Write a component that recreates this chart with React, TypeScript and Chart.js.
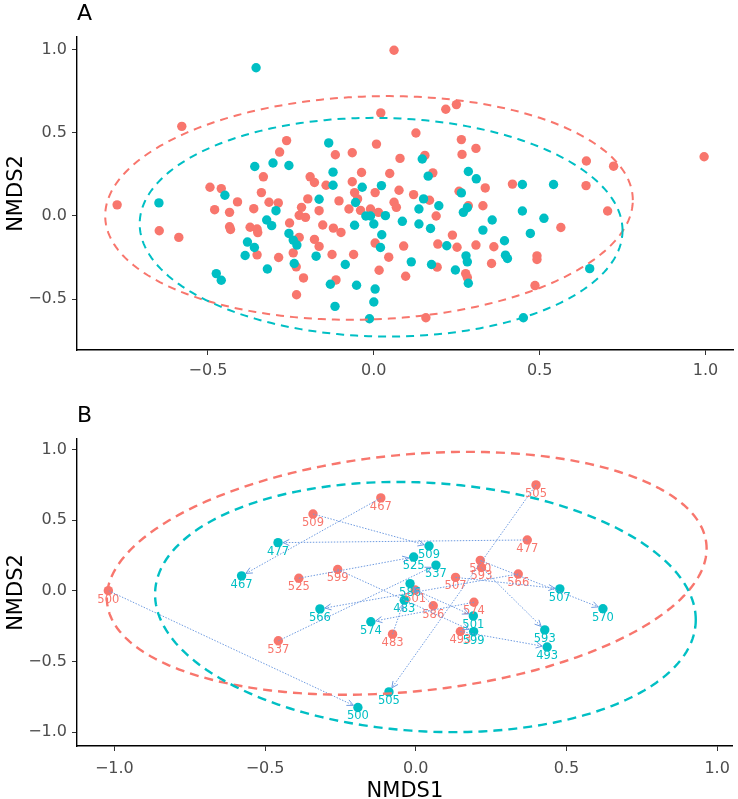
import React, { useEffect, useRef } from 'react';
import { Chart, registerables } from 'chart.js';

Chart.register(...registerables);

const RED = '#F8766D';
const CYAN = '#00BFC4';
const ARROW = '#6F9BE0';
const FONT = "'DejaVu Sans', 'Liberation Sans', sans-serif";

// ---------- Panel A data (NMDS1, NMDS2) ----------
const A_RED: [number, number][] = [
  [0.061, 0.998], [-0.774, 0.067], [-0.579, 0.540], [-0.647, -0.089], [-0.588, -0.129],
  [-0.494, 0.173], [-0.460, 0.165], [-0.480, 0.038], [-0.435, 0.022], [-0.435, -0.065],
  [-0.432, -0.081], [-0.411, 0.085], [-0.352, -0.234], [-0.373, -0.068], [-0.352, -0.078],
  [-0.350, -0.100], [-0.362, 0.044], [-0.339, 0.141], [-0.333, 0.236], [-0.316, 0.083],
  [-0.288, 0.079], [-0.284, 0.385], [-0.263, 0.454], [-0.287, -0.250], [-0.254, -0.042],
  [-0.243, -0.222], [-0.234, -0.306], [-0.212, -0.373], [-0.233, -0.474], [-0.225, -0.129],
  [-0.225, 0.004], [-0.218, 0.052], [-0.206, -0.008], [-0.199, 0.103], [-0.192, 0.236],
  [-0.179, 0.202], [-0.179, -0.141], [-0.165, -0.183], [-0.165, 0.032], [-0.154, -0.054],
  [-0.144, 0.185], [-0.126, -0.232], [-0.122, -0.073], [-0.116, 0.369], [-0.114, -0.385],
  [-0.105, 0.091], [-0.099, -0.099], [-0.075, 0.042], [-0.065, 0.381], [-0.065, 0.206],
  [-0.058, 0.141], [-0.061, -0.232], [-0.049, 0.103], [-0.037, 0.262], [-0.040, 0.034],
  [-0.010, 0.042], [0.004, 0.141], [0.008, 0.433], [0.004, -0.163], [0.016, -0.327],
  [0.021, 0.621], [0.014, 0.022], [0.045, -0.248], [0.048, 0.256], [0.061, 0.083],
  [0.068, 0.052], [0.076, 0.155], [0.079, 0.347], [0.090, -0.181], [0.096, -0.363],
  [0.120, 0.129], [0.127, 0.500], [0.154, 0.365], [0.157, -0.613], [0.168, 0.095],
  [0.178, 0.260], [0.188, 0.000], [0.191, -0.308], [0.193, -0.169], [0.217, 0.643],
  [0.249, 0.671], [0.237, -0.115], [0.251, -0.188], [0.257, 0.149], [0.264, 0.460],
  [0.266, 0.371], [0.277, -0.347], [0.282, -0.371], [0.285, 0.062], [0.308, 0.407],
  [0.308, -0.175], [0.329, 0.062], [0.336, 0.169], [0.355, -0.286], [0.362, -0.185],
  [0.418, 0.192], [0.486, -0.419], [0.492, -0.240], [0.492, -0.262], [0.564, -0.069],
  [0.641, 0.331], [0.640, 0.183], [0.705, 0.030], [0.723, 0.300], [0.996, 0.357],
];

const A_CYAN: [number, number][] = [
  [-0.355, 0.893], [-0.648, 0.079], [-0.449, 0.125], [-0.475, -0.347], [-0.460, -0.387],
  [-0.381, -0.157], [-0.388, -0.238], [-0.360, -0.190], [-0.359, 0.298], [-0.323, -0.024],
  [-0.308, -0.058], [-0.321, -0.319], [-0.304, 0.319], [-0.295, 0.032], [-0.256, 0.304],
  [-0.256, -0.105], [-0.243, -0.145], [-0.232, -0.175], [-0.240, -0.286], [-0.174, -0.242],
  [-0.165, 0.101], [-0.136, 0.440], [-0.123, 0.264], [-0.123, 0.185], [-0.131, -0.411],
  [-0.117, -0.544], [-0.086, -0.292], [-0.058, -0.056], [-0.055, 0.081], [-0.052, -0.417],
  [-0.035, 0.173], [-0.024, 0.000], [-0.010, 0.000], [0.000, -0.048], [0.004, -0.440],
  [0.000, -0.518], [-0.013, -0.619], [0.020, -0.190], [0.024, -0.113], [0.023, 0.183],
  [0.035, 0.002], [0.086, -0.032], [0.113, -0.276], [0.136, 0.042], [0.136, -0.048],
  [0.146, 0.343], [0.150, 0.103], [0.164, 0.240], [0.171, -0.075], [0.174, -0.292],
  [0.196, 0.062], [0.220, -0.179], [0.246, -0.325], [0.264, 0.139], [0.270, 0.022],
  [0.278, -0.240], [0.282, -0.276], [0.282, 0.050], [0.285, 0.268], [0.285, -0.405],
  [0.309, 0.224], [0.329, -0.085], [0.357, -0.024], [0.394, -0.149], [0.397, -0.236],
  [0.403, -0.256], [0.448, 0.030], [0.448, 0.190], [0.451, -0.613], [0.472, -0.105],
  [0.513, -0.014], [0.542, 0.190], [0.651, -0.317],
];

// ellipse: [centreX, centreY, halfWidthX, yOffsetAtRightmost, halfHeightY]
const A_ELLIPSE_RED = [-0.0145, 0.0485, 0.7955, 0.047, 0.6735];
const A_ELLIPSE_CYAN = [0.022, -0.0675, 0.728, -0.02, 0.6585];

const A_X_RANGE = [-0.895, 1.084];
const A_Y_RANGE = [-0.807, 1.078];
const A_X_TICKS = [-0.5, 0, 0.5, 1.0];
const A_Y_TICKS = [-0.5, 0, 0.5, 1.0];

// ---------- Panel B data ----------
const B_IDS = ['505', '467', '509', '477', '599', '525', '500', '537', '483', '586', '507', '501', '574', '493', '570', '593', '566'];
const B_RED_X = [0.399, -0.116, -0.341, 0.370, -0.259, -0.388, -1.020, -0.456, -0.077, 0.058, 0.132, -0.002, 0.193, 0.148, 0.214, 0.218, 0.340];
const B_RED_Y = [0.751, 0.659, 0.545, 0.361, 0.152, 0.090, 0.002, -0.353, -0.306, -0.105, 0.096, 0.007, -0.080, -0.287, 0.216, 0.166, 0.120];
const B_CYAN_X = [-0.089, -0.578, 0.044, -0.457, 0.192, -0.007, -0.192, 0.067, -0.038, -0.019, 0.478, 0.191, -0.149, 0.436, 0.621, 0.428, -0.318];
const B_CYAN_Y = [-0.715, 0.107, 0.318, 0.342, -0.288, 0.240, -0.825, 0.183, -0.065, 0.052, 0.015, -0.177, -0.218, -0.397, -0.126, -0.276, -0.127];

const B_ELLIPSE_RED = [-0.03, 0.125, 0.995, 0.175, 0.86];
const B_ELLIPSE_CYAN = [0.032, -0.114, 0.897, -0.09, 0.886];

const B_X_RANGE = [-1.124, 1.052];
const B_Y_RANGE = [-1.098, 1.076];
const B_X_TICKS = [-1.0, -0.5, 0, 0.5, 1.0];
const B_Y_TICKS = [-1.0, -0.5, 0, 0.5, 1.0];

const fmt = (v: any) => Number(v).toFixed(1).replace('-', '\u2212');

function drawEllipse(chart: any, p: number[], color: string, width: number, dash: number[]) {
  const { ctx, scales } = chart;
  const xs = scales.x, ys = scales.y;
  const [cx, cy, hx, k, hy] = p;
  const m = Math.sqrt(Math.max(hy * hy - k * k, 0));
  ctx.save();
  ctx.beginPath();
  const n = 240;
  for (let i = 0; i <= n; i++) {
    const t = (i / n) * Math.PI * 2;
    const px = xs.getPixelForValue(cx + hx * Math.cos(t));
    const py = ys.getPixelForValue(cy + k * Math.cos(t) + m * Math.sin(t));
    if (i === 0) ctx.moveTo(px, py); else ctx.lineTo(px, py);
  }
  ctx.setLineDash(dash);
  ctx.lineWidth = width;
  ctx.strokeStyle = color;
  ctx.stroke();
  ctx.restore();
}

function textPlugin(letter: string, letterBaseY: number, yTitleX: number, xTitleY: number | null) {
  return {
    id: 'texts' + letter,
    afterDraw(chart: any) {
      const { ctx, chartArea } = chart;
      ctx.save();
      ctx.fillStyle = '#000000';
      ctx.font = `22px ${FONT}`;
      ctx.textAlign = 'left';
      ctx.textBaseline = 'alphabetic';
      ctx.fillText(letter, 77, letterBaseY);
      ctx.font = `21px ${FONT}`;
      ctx.save();
      ctx.translate(yTitleX, (chartArea.top + chartArea.bottom) / 2);
      ctx.rotate(-Math.PI / 2);
      ctx.textAlign = 'center';
      ctx.fillText('NMDS2', 0, 0);
      ctx.restore();
      if (xTitleY !== null) {
        ctx.textAlign = 'center';
        ctx.fillText('NMDS1', (chartArea.left + chartArea.right) / 2, xTitleY);
      }
      ctx.restore();
    },
  };
}

function makeOptions(xr: number[], yr: number[], xt: number[], yt: number[], padTop: number, xHeight: number, xPad: number) {
  const common = {
    grid: { display: true, drawOnChartArea: false, drawTicks: true, tickLength: 5, color: '#333333', lineWidth: 1 },
    border: { display: true, color: '#000000', width: 1.4 },
  };
  return {
    animation: false,
    responsive: false,
    maintainAspectRatio: false,
    events: [],
    layout: { padding: { top: padTop, right: 2, left: 0, bottom: 0 } },
    plugins: { legend: { display: false }, tooltip: { enabled: false }, title: { display: false } },
    scales: {
      x: {
        type: 'linear',
        min: xr[0],
        max: xr[1],
        ...common,
        afterBuildTicks: (s: any) => { s.ticks = xt.map((v) => ({ value: v })); },
        afterFit: (s: any) => { s.height = xHeight; },
        ticks: { font: { family: FONT, size: 16 }, color: '#4D4D4D', padding: xPad, maxRotation: 0, autoSkip: false, callback: fmt },
      },
      y: {
        type: 'linear',
        min: yr[0],
        max: yr[1],
        ...common,
        afterBuildTicks: (s: any) => { s.ticks = yt.map((v) => ({ value: v })); },
        afterFit: (s: any) => { s.width = 77; },
        ticks: { font: { family: FONT, size: 16 }, color: '#4D4D4D', padding: 5, autoSkip: false, callback: fmt },
      },
    },
  };
}

const toPts = (arr: [number, number][]) => arr.map(([x, y]) => ({ x, y }));
const zipPts = (xs: number[], ys: number[]) => xs.map((x, i) => ({ x, y: ys[i] }));

export default function App() {
  const refA = useRef<HTMLCanvasElement | null>(null);
  const refB = useRef<HTMLCanvasElement | null>(null);

  useEffect(() => {
    const pointStyle = { pointRadius: 4.7, pointBorderWidth: 0, pointHoverRadius: 4.7 };
    const chartA = new Chart(refA.current as HTMLCanvasElement, {
      type: 'scatter',
      data: {
        datasets: [
          { data: toPts(A_CYAN), backgroundColor: CYAN, borderColor: CYAN, ...pointStyle },
          { data: toPts(A_RED), backgroundColor: RED, borderColor: RED, ...pointStyle },
        ],
      },
      options: makeOptions(A_X_RANGE, A_Y_RANGE, A_X_TICKS, A_Y_TICKS, 37, 50, 6) as any,
      plugins: [
        {
          id: 'ellA',
          afterDatasetsDraw(chart: any) {
            drawEllipse(chart, A_ELLIPSE_RED, RED, 2, [8, 6]);
            drawEllipse(chart, A_ELLIPSE_CYAN, CYAN, 2, [8, 6]);
          },
        },
        textPlugin('A', 20, 22, null),
      ],
    });

    const chartB = new Chart(refB.current as HTMLCanvasElement, {
      type: 'scatter',
      data: {
        datasets: [
          { data: zipPts(B_CYAN_X, B_CYAN_Y), backgroundColor: CYAN, borderColor: CYAN, ...pointStyle },
          { data: zipPts(B_RED_X, B_RED_Y), backgroundColor: RED, borderColor: RED, ...pointStyle },
        ],
      },
      options: makeOptions(B_X_RANGE, B_Y_RANGE, B_X_TICKS, B_Y_TICKS, 39, 53, 8) as any,
      plugins: [
        {
          id: 'pairsB',
          afterDatasetsDraw(chart: any) {
            const { ctx, scales } = chart;
            const xs = scales.x, ys = scales.y;
            ctx.save();
            // labels
            ctx.font = `11.5px ${FONT}`;
            ctx.textAlign = 'center';
            ctx.textBaseline = 'middle';
            for (let i = 0; i < B_IDS.length; i++) {
              ctx.fillStyle = RED;
              ctx.fillText(B_IDS[i], xs.getPixelForValue(B_RED_X[i]), ys.getPixelForValue(B_RED_Y[i]) + 9);
              ctx.fillStyle = CYAN;
              ctx.fillText(B_IDS[i], xs.getPixelForValue(B_CYAN_X[i]), ys.getPixelForValue(B_CYAN_Y[i]) + 9);
            }
            // arrows
            ctx.strokeStyle = ARROW;
            ctx.lineWidth = 1;
            for (let i = 0; i < B_IDS.length; i++) {
              const x1 = xs.getPixelForValue(B_RED_X[i]);
              const y1 = ys.getPixelForValue(B_RED_Y[i]);
              const x2 = xs.getPixelForValue(B_CYAN_X[i]);
              const y2 = ys.getPixelForValue(B_CYAN_Y[i]);
              const dx = x2 - x1, dy = y2 - y1;
              const len = Math.hypot(dx, dy) || 1;
              const ux = dx / len, uy = dy / len;
              const ex = x2 - ux * 5, ey = y2 - uy * 5;
              ctx.setLineDash([1.5, 1.5]);
              ctx.beginPath();
              ctx.moveTo(x1, y1);
              ctx.lineTo(ex, ey);
              ctx.stroke();
              ctx.setLineDash([]);
              const ang = Math.atan2(uy, ux);
              const hl = 7, ha = Math.PI / 7;
              ctx.beginPath();
              ctx.moveTo(ex - hl * Math.cos(ang - ha), ey - hl * Math.sin(ang - ha));
              ctx.lineTo(ex, ey);
              ctx.lineTo(ex - hl * Math.cos(ang + ha), ey - hl * Math.sin(ang + ha));
              ctx.stroke();
            }
            ctx.restore();
            drawEllipse(chart, B_ELLIPSE_RED, RED, 2.4, [9, 6]);
            drawEllipse(chart, B_ELLIPSE_CYAN, CYAN, 2.4, [9, 6]);
          },
        },
        textPlugin('B', 22, 22, 397),
      ],
    });

    return () => {
      chartA.destroy();
      chartB.destroy();
    };
  }, []);

  return (
    <div style={{ position: 'absolute', left: 0, top: 0, width: 738, height: 799, background: '#ffffff' }}>
      <canvas ref={refA} width={738} height={400} style={{ position: 'absolute', left: 0, top: 0, width: 738, height: 400 }} />
      <canvas ref={refB} width={738} height={399} style={{ position: 'absolute', left: 0, top: 400, width: 738, height: 399 }} />
    </div>
  );
}
